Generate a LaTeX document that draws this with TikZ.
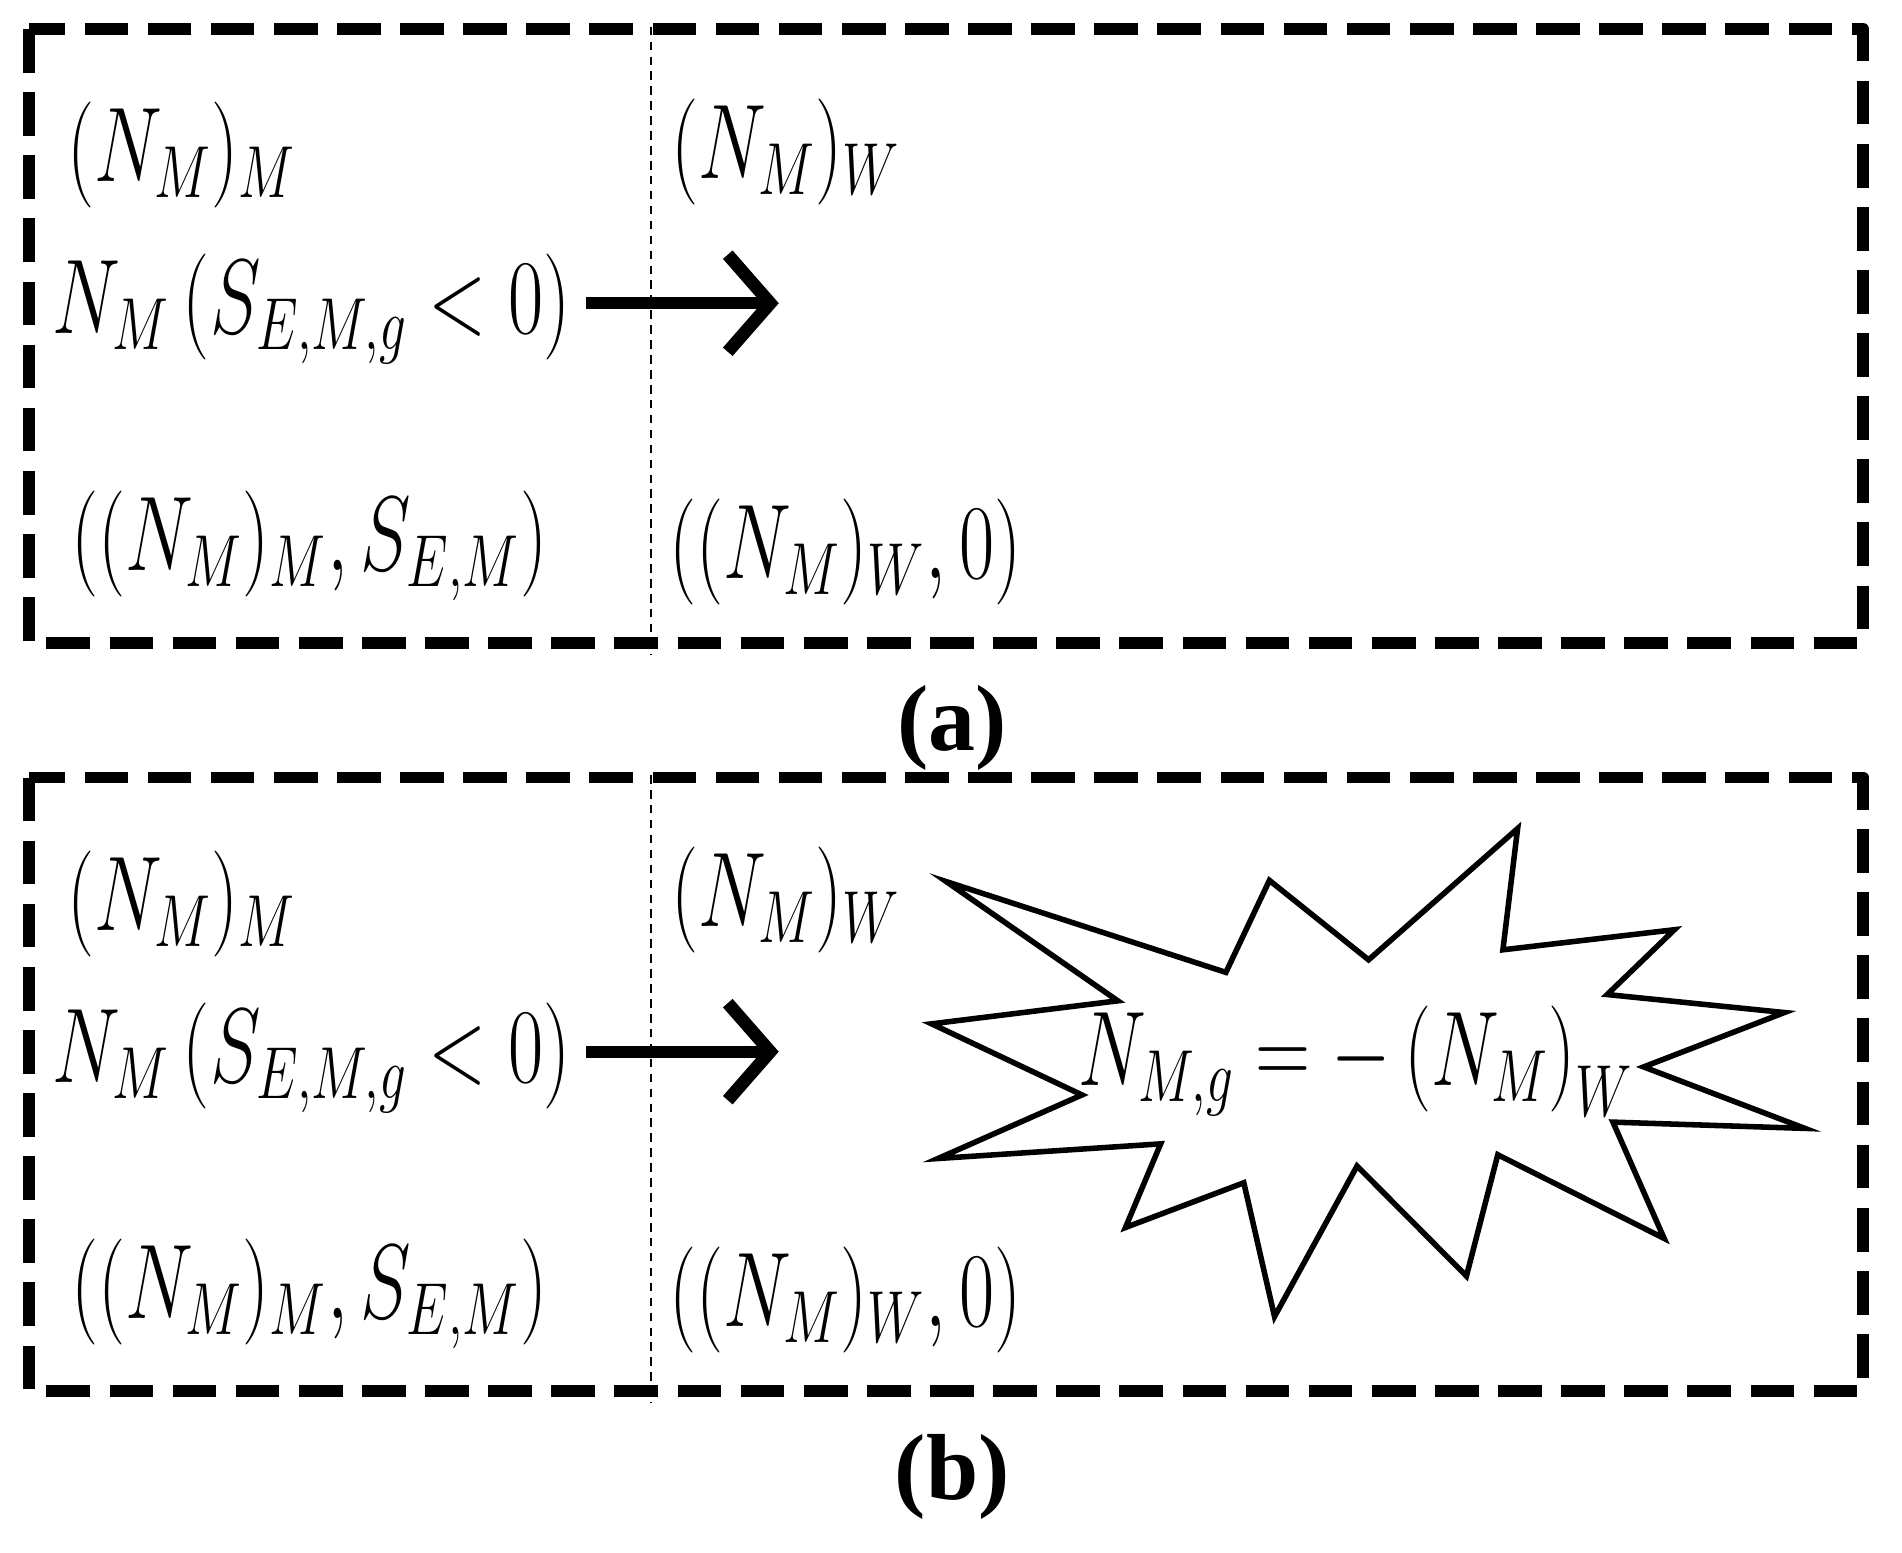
\documentclass[tikz,border=0pt]{standalone}
\usepackage{fontspec}
\setmainfont{Liberation Serif}
\usetikzlibrary{arrows.meta}
\newcommand{\nar}[1]{\scalebox{0.72}[1]{$#1$}}
\begin{document}
\begin{tikzpicture}[x=0.01cm,y=-0.01cm,
  frame/.style={line width=2.8pt,dash pattern=on 0.36cm off 0.16cm,line join=round},
  sep/.style={line width=0.5pt,dash pattern=on 2pt off 1.5pt},
  lab/.style={font=\fontsize{23.5}{26}\selectfont,inner sep=0pt},
  arr/.style={line width=2.8pt,-{Straight Barb[length=3.5mm,width=8mm,line width=3pt]}}]
\useasboundingbox (0,0) rectangle (1568,1280);
\foreach \o/\n in {0/a,617/b}{
  \begin{scope}[yshift=-\o*0.01cm]
  \draw[frame] (24,24) rectangle (1536,530);
  \coordinate (t\n) at (537,22); \coordinate (u\n) at (537,540);
  \draw[sep] (t\n) -- (u\n);
  \node[lab] (nm\n) at (150,128) {\nar{(N_M)_M}};
  \node[lab] (ns\n) at (257,255) {\nar{N_M\left(S_{E,M,g}<0\right)}};
  \coordinate (p\n) at (483,250); \coordinate (q\n) at (642,250);
  \draw[arr] (p\n) -- (q\n);
  \node[lab] (np\n) at (255,450) {\nar{\left((N_M)_M,S_{E,M}\right)}};
  \node[lab] (nw\n) at (648,125) {\nar{(N_M)_W}};
  \node[lab] (nz\n) at (697,455) {\nar{\left((N_M)_W,0\right)}};
  \end{scope}}
\node[font=\bfseries\fontsize{22}{25}\selectfont] (la) at (785,600) {(a)};
\node[font=\bfseries\fontsize{22}{25}\selectfont] (lb) at (785,1218) {(b)};
\begin{scope}[shift={(740.6,645.8)},xscale=0.5274,yscale=0.3448]
\draw[line width=1.3pt,line join=miter] (75,235)--(512,452)--(580,232)--(735,422)--(968,108)--(945,398)--(1213,350)--(1108,505)--(1385,548)--(1165,678)--(1417,825)--(1117,810)--(1197,1088)--(937,888)--(888,1178)--(717,915)--(588,1275)--(540,955)--(355,1062)--(410,862)--(62,897)--(287,745)--(52,575)--(343,520)--cycle;
\end{scope}
\node[lab] (eq) at (1118,875) {\nar{N_{M,g}=-\left(N_M\right)_W}};
\end{tikzpicture}
\end{document}
